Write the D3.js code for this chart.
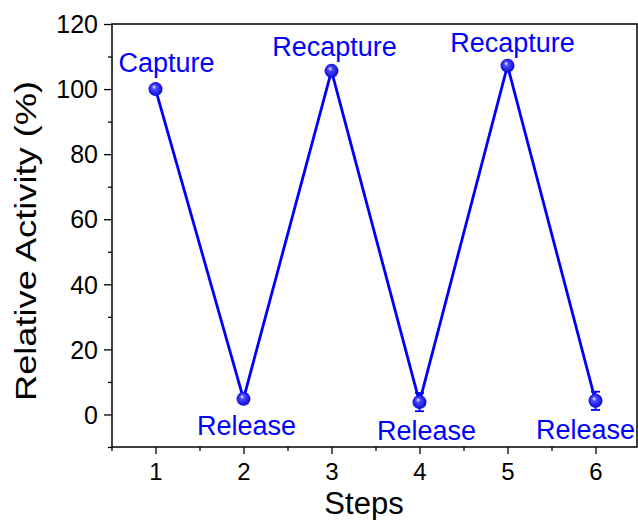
<!DOCTYPE html>
<html><head><meta charset="utf-8">
<script src="https://cdn.jsdelivr.net/npm/d3@7"></script>
<style>body{margin:0;background:#fff}svg{display:block;font-family:Arial,"Liberation Sans",sans-serif}</style>
</head><body><svg id="c" width="638" height="520"></svg>
<script>
const steps = [1, 2, 3, 4, 5, 6];
const activity = [100, 4.8, 105.6, 3.8, 107.2, 4.2];
const errors = [0.8, 1, 0.8, 2.8, 0.8, 2.8];
const stepLabels = ["Capture", "Release", "Recapture", "Release", "Recapture", "Release"];
const yTicks = [0, 20, 40, 60, 80, 100, 120];
const yMinor = [-10, 10, 30, 50, 70, 90, 110];
const xTicks = [1, 2, 3, 4, 5, 6];
const xMinor = [0.5, 1.5, 2.5, 3.5, 4.5, 5.5];

const svg = d3.select("#c");
const L = 112, R = 637, T = 24, B = 447;
const x = d3.scaleLinear().domain([0.5, 6.5]).range([111.5, 639.5]);
const y = d3.scaleLinear().domain([-10, 120]).range([B, T]);
const blue = "#0000ff";
const FONT = "Arial, 'Liberation Sans', sans-serif";

const defs = svg.append("defs");
const g = defs.append("radialGradient").attr("id", "ball").attr("cx", "50%").attr("cy", "50%").attr("r", "55%").attr("fx", "38%").attr("fy", "32%");
g.append("stop").attr("offset", "0%").attr("stop-color", "#f0f0ff");
g.append("stop").attr("offset", "30%").attr("stop-color", "#4a4aff");
g.append("stop").attr("offset", "100%").attr("stop-color", "#0000d0");

// frame
svg.append("rect").attr("x", L).attr("y", T).attr("width", R - L).attr("height", B - T)
  .attr("fill", "none").attr("stroke", "#000").attr("stroke-width", 1.5);

// y axis
const ya = svg.append("g").attr("transform", `translate(${L},0)`)
  .call(d3.axisLeft(y).tickValues(yTicks).tickSize(8).tickPadding(6).tickFormat(d3.format("d")));
ya.select(".domain").remove();
ya.selectAll("line").attr("stroke-width", 1.3);
ya.selectAll("text").attr("font-size", 25).attr("font-family", FONT).attr("fill", "#000").attr("dy", "0.35em");
svg.append("g").attr("transform", `translate(${L},0)`)
  .call(d3.axisLeft(y).tickValues(yMinor).tickSize(4).tickFormat(""))
  .call(s => s.select(".domain").remove()).selectAll("line").attr("stroke-width", 1.3);

// x axis
const xa = svg.append("g").attr("transform", `translate(0,${B})`)
  .call(d3.axisBottom(x).tickValues(xTicks).tickSize(7).tickPadding(9).tickFormat(d3.format("d")));
xa.select(".domain").remove();
xa.selectAll("line").attr("stroke-width", 1.3);
xa.selectAll("text").attr("font-size", 24).attr("font-family", FONT).attr("fill", "#000");
svg.append("g").attr("transform", `translate(0,${B})`)
  .call(d3.axisBottom(x).tickValues(xMinor).tickSize(4).tickFormat(""))
  .call(s => s.select(".domain").remove()).selectAll("line").attr("stroke-width", 1.3);

// titles
svg.append("text").attr("transform", `translate(36,401) rotate(-90)`)
  .attr("text-anchor", "start").attr("font-size", 30)
  .attr("textLength", 320).attr("lengthAdjust", "spacingAndGlyphs")
  .text("Relative Activity (%)");
svg.append("text").attr("x", 364).attr("y", 514)
  .attr("text-anchor", "middle").attr("font-size", 31).text("Steps");

// line
const line = d3.line().x((d, i) => x(steps[i])).y(d => y(d));
svg.append("path").datum(activity).attr("d", line).attr("fill", "none")
  .attr("stroke", blue).attr("stroke-width", 2.8).attr("stroke-linejoin", "round");

// error bars
const eb = svg.append("g").attr("stroke", blue).attr("stroke-width", 1.8);
steps.forEach((s, i) => {
  const cx = x(s), y1 = y(activity[i] - errors[i]), y2 = y(activity[i] + errors[i]);
  eb.append("line").attr("x1", cx).attr("x2", cx).attr("y1", y1).attr("y2", y2);
  eb.append("line").attr("x1", cx - 4.5).attr("x2", cx + 4.5).attr("y1", y1).attr("y2", y1);
  eb.append("line").attr("x1", cx - 4.5).attr("x2", cx + 4.5).attr("y1", y2).attr("y2", y2);
});

// markers
svg.append("g").selectAll("circle").data(activity).join("circle")
  .attr("cx", (d, i) => x(steps[i])).attr("cy", d => y(d)).attr("r", 7)
  .attr("fill", "url(#ball)");

// annotations (offset from each point)
const labelDx = [11, 3, 3, 7, 5, -10];
const labelDy = [-17, 36, -15, 38, -14, 38];
svg.append("g").selectAll("text").data(stepLabels).join("text")
  .attr("x", (d, i) => x(steps[i]) + labelDx[i])
  .attr("y", (d, i) => y(activity[i]) + labelDy[i])
  .attr("text-anchor", "middle").attr("font-size", 27).attr("fill", blue).text(d => d);
</script></body></html>
